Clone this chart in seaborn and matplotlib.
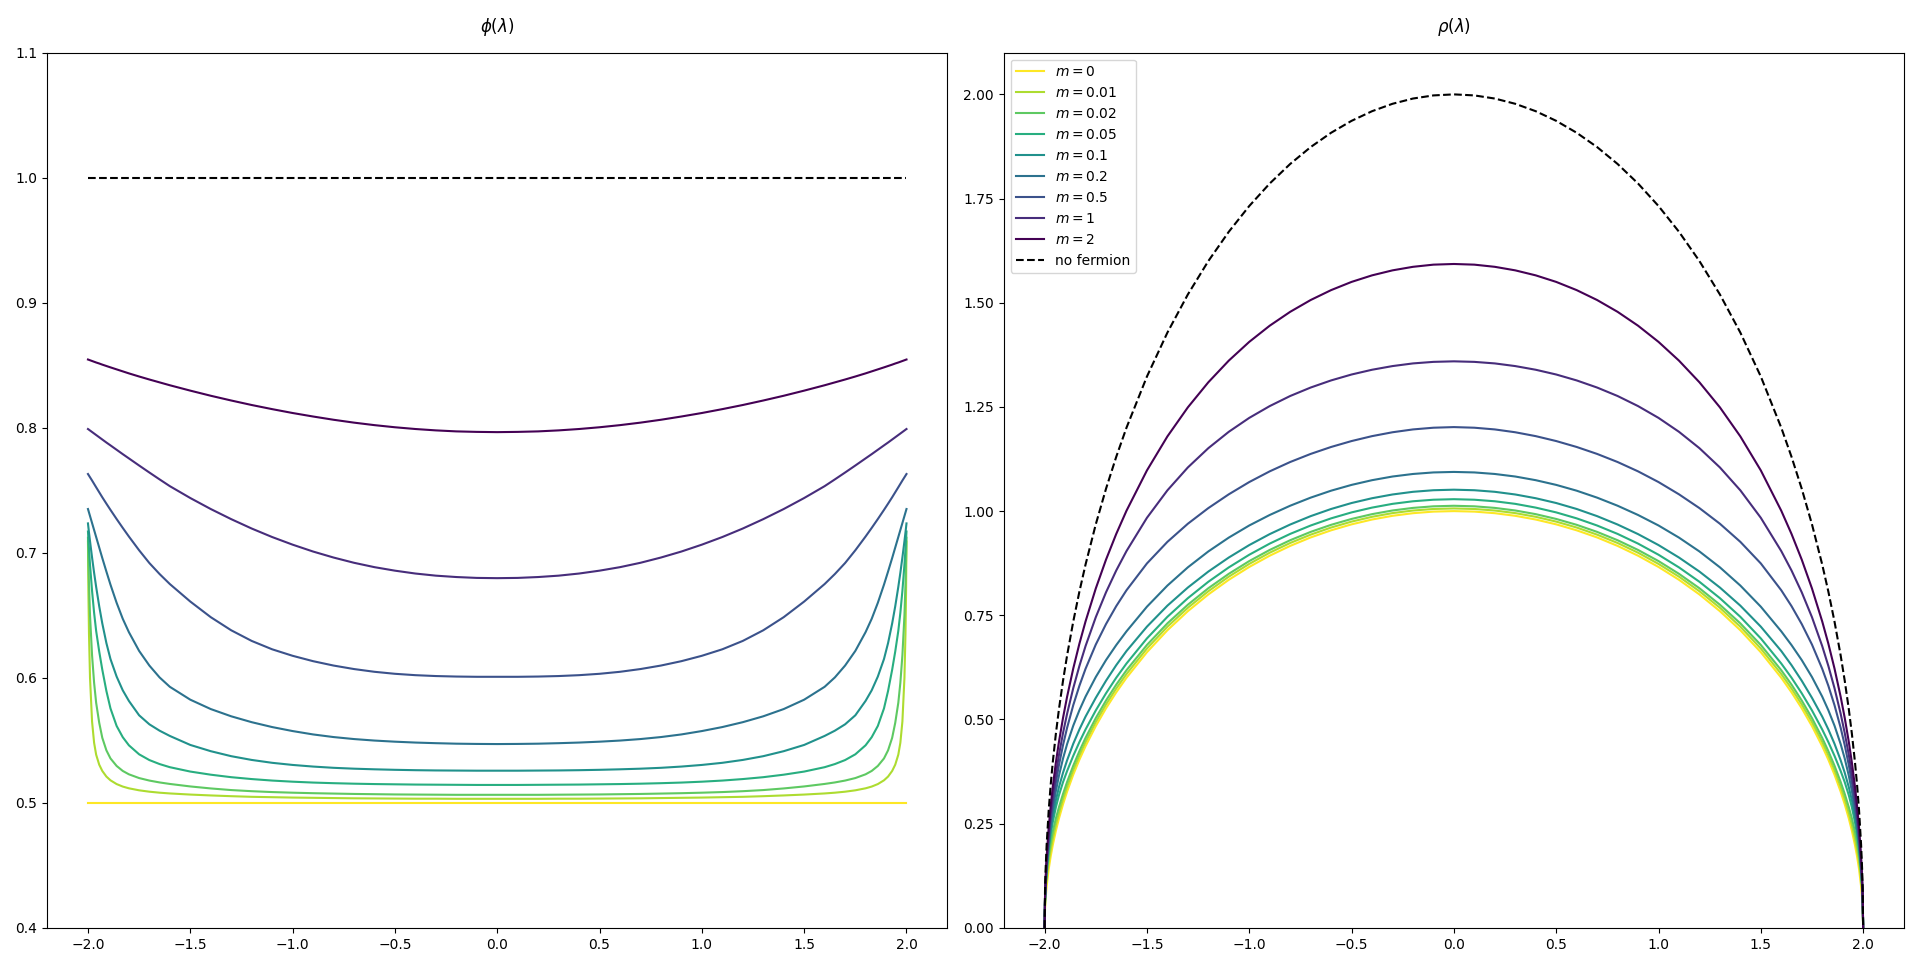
import numpy as np
import pandas as pd
import seaborn as sns
import matplotlib
matplotlib.use("Agg")
import matplotlib.pyplot as plt

# eigenvalue grid, denser near the ends of the cut
lam = [-2.0, -1.998, -1.995, -1.99, -1.98, -1.97, -1.96, -1.945, -1.93, -1.91,
       -1.89, -1.86, -1.83, -1.8, -1.75, -1.7, -1.65, -1.6, -1.5, -1.4,
       -1.3, -1.2, -1.1, -1.0, -0.9, -0.8, -0.7, -0.6, -0.5, -0.4,
       -0.3, -0.2, -0.1, 0.0,
       0.1, 0.2, 0.3, 0.4, 0.5, 0.6, 0.7, 0.8, 0.9, 1.0,
       1.1, 1.2, 1.3, 1.4, 1.5, 1.6, 1.65, 1.7, 1.75, 1.8,
       1.83, 1.86, 1.89, 1.91, 1.93, 1.945, 1.96, 1.97, 1.98, 1.99,
       1.995, 1.998, 2.0]

masses = ["0", "0.01", "0.02", "0.05", "0.1", "0.2", "0.5", "1", "2"]

# phi(lambda), left panel
phi_m0 = [0.5] * 67
phi_m001 = [
    0.7090, 0.6700, 0.6350, 0.6000, 0.5650, 0.5480, 0.5385, 0.5305, 0.5255, 0.5210,
    0.5180, 0.5150, 0.5130, 0.5116, 0.5100, 0.5089, 0.5081, 0.5075, 0.5066, 0.5059,
    0.5053, 0.5048, 0.5045, 0.5042, 0.5040, 0.5038, 0.5036, 0.5035, 0.5034, 0.5033,
    0.5033, 0.5032, 0.5032, 0.5032,
    0.5032, 0.5032, 0.5033, 0.5033, 0.5034, 0.5035, 0.5036, 0.5038, 0.5040, 0.5042,
    0.5045, 0.5048, 0.5053, 0.5059, 0.5066, 0.5075, 0.5081, 0.5089, 0.5100, 0.5116,
    0.5130, 0.5150, 0.5180, 0.5210, 0.5255, 0.5305, 0.5385, 0.5480, 0.5650, 0.6000,
    0.6350, 0.6700, 0.7090]
phi_m002 = [
    0.7120, 0.6950, 0.6750, 0.6500, 0.6180, 0.5960, 0.5800, 0.5640, 0.5520, 0.5420,
    0.5355, 0.5295, 0.5255, 0.5228, 0.5198, 0.5178, 0.5163, 0.5151, 0.5131, 0.5115,
    0.5102, 0.5093, 0.5086, 0.5081, 0.5077, 0.5074, 0.5071, 0.5069, 0.5067, 0.5066,
    0.5065, 0.5064, 0.5064, 0.5064,
    0.5064, 0.5064, 0.5065, 0.5066, 0.5067, 0.5069, 0.5071, 0.5074, 0.5077, 0.5081,
    0.5086, 0.5093, 0.5102, 0.5115, 0.5131, 0.5151, 0.5163, 0.5178, 0.5198, 0.5228,
    0.5255, 0.5295, 0.5355, 0.5420, 0.5520, 0.5640, 0.5800, 0.5960, 0.6180, 0.6500,
    0.6750, 0.6950, 0.7120]
phi_m005 = [
    0.7170, 0.7110, 0.7030, 0.6905, 0.6695, 0.6520, 0.6375, 0.6210, 0.6065, 0.5895,
    0.5755, 0.5615, 0.5525, 0.5460, 0.5388, 0.5342, 0.5310, 0.5285, 0.5250, 0.5225,
    0.5205, 0.5190, 0.5178, 0.5169, 0.5162, 0.5157, 0.5153, 0.5150, 0.5148, 0.5146,
    0.5145, 0.5144, 0.5143, 0.5143,
    0.5143, 0.5144, 0.5145, 0.5146, 0.5148, 0.5150, 0.5153, 0.5157, 0.5162, 0.5169,
    0.5178, 0.5190, 0.5205, 0.5225, 0.5250, 0.5285, 0.5310, 0.5342, 0.5388, 0.5460,
    0.5525, 0.5615, 0.5755, 0.5895, 0.6065, 0.6210, 0.6375, 0.6520, 0.6695, 0.6905,
    0.7030, 0.7110, 0.7170]
phi_m01 = [
    0.7235, 0.7205, 0.7162, 0.7093, 0.6962, 0.6840, 0.6727, 0.6572, 0.6435, 0.6278,
    0.6150, 0.6010, 0.5900, 0.5815, 0.5700, 0.5628, 0.5577, 0.5535, 0.5463, 0.5413,
    0.5373, 0.5343, 0.5320, 0.5303, 0.5290, 0.5280, 0.5273, 0.5268, 0.5264, 0.5261,
    0.5259, 0.5258, 0.5257, 0.5257,
    0.5257, 0.5258, 0.5259, 0.5261, 0.5264, 0.5268, 0.5273, 0.5280, 0.5290, 0.5303,
    0.5320, 0.5343, 0.5373, 0.5413, 0.5463, 0.5535, 0.5577, 0.5628, 0.5700, 0.5815,
    0.5900, 0.6010, 0.6150, 0.6278, 0.6435, 0.6572, 0.6727, 0.6840, 0.6962, 0.7093,
    0.7162, 0.7205, 0.7235]
phi_m02 = [
    0.7350, 0.7339, 0.7322, 0.7294, 0.7238, 0.7182, 0.7126, 0.7042, 0.6958, 0.6850,
    0.6745, 0.6600, 0.6472, 0.6365, 0.6215, 0.6098, 0.6003, 0.5928, 0.5825, 0.5750,
    0.5692, 0.5645, 0.5606, 0.5574, 0.5547, 0.5526, 0.5510, 0.5498, 0.5489, 0.5482,
    0.5477, 0.5473, 0.5471, 0.5470,
    0.5471, 0.5473, 0.5477, 0.5482, 0.5489, 0.5498, 0.5510, 0.5526, 0.5547, 0.5574,
    0.5606, 0.5645, 0.5692, 0.5750, 0.5825, 0.5928, 0.6003, 0.6098, 0.6215, 0.6365,
    0.6472, 0.6600, 0.6745, 0.6850, 0.6958, 0.7042, 0.7126, 0.7182, 0.7238, 0.7294,
    0.7322, 0.7339, 0.7350]
phi_m05 = [
    0.7630, 0.7625, 0.7617, 0.7604, 0.7578, 0.7551, 0.7524, 0.7484, 0.7444, 0.7393,
    0.7343, 0.7270, 0.7199, 0.7130, 0.7020, 0.6918, 0.6830, 0.6750, 0.6610, 0.6485,
    0.6380, 0.6295, 0.6228, 0.6176, 0.6133, 0.6098, 0.6070, 0.6048, 0.6032, 0.6021,
    0.6014, 0.6010, 0.6008, 0.6008,
    0.6008, 0.6010, 0.6014, 0.6021, 0.6032, 0.6048, 0.6070, 0.6098, 0.6133, 0.6176,
    0.6228, 0.6295, 0.6380, 0.6485, 0.6610, 0.6750, 0.6830, 0.6918, 0.7020, 0.7130,
    0.7199, 0.7270, 0.7343, 0.7393, 0.7444, 0.7484, 0.7524, 0.7551, 0.7578, 0.7604,
    0.7617, 0.7625, 0.7630]
phi_m1 = [
    0.7990, 0.7988, 0.7984, 0.7978, 0.7966, 0.7954, 0.7942, 0.7924, 0.7906, 0.7882,
    0.7859, 0.7824, 0.7789, 0.7755, 0.7698, 0.7642, 0.7587, 0.7533, 0.7438, 0.7350,
    0.7269, 0.7194, 0.7126, 0.7065, 0.7010, 0.6962, 0.6920, 0.6885, 0.6857, 0.6834,
    0.6817, 0.6806, 0.6799, 0.6797,
    0.6799, 0.6806, 0.6817, 0.6834, 0.6857, 0.6885, 0.6920, 0.6962, 0.7010, 0.7065,
    0.7126, 0.7194, 0.7269, 0.7350, 0.7438, 0.7533, 0.7587, 0.7642, 0.7698, 0.7755,
    0.7789, 0.7824, 0.7859, 0.7882, 0.7906, 0.7924, 0.7942, 0.7954, 0.7966, 0.7978,
    0.7984, 0.7988, 0.7990]
phi_m2 = [
    0.8546, 0.8545, 0.8543, 0.8540, 0.8534, 0.8528, 0.8522, 0.8514, 0.8505, 0.8494,
    0.8483, 0.8467, 0.8451, 0.8435, 0.8410, 0.8386, 0.8363, 0.8340, 0.8297, 0.8256,
    0.8218, 0.8182, 0.8149, 0.8118, 0.8090, 0.8064, 0.8041, 0.8021, 0.8004, 0.7990,
    0.7979, 0.7971, 0.7967, 0.7965,
    0.7967, 0.7971, 0.7979, 0.7990, 0.8004, 0.8021, 0.8041, 0.8064, 0.8090, 0.8118,
    0.8149, 0.8182, 0.8218, 0.8256, 0.8297, 0.8340, 0.8363, 0.8386, 0.8410, 0.8435,
    0.8451, 0.8467, 0.8483, 0.8494, 0.8505, 0.8514, 0.8522, 0.8528, 0.8534, 0.8540,
    0.8543, 0.8545, 0.8546]
phi_free = [1.0] * 67

# rho(lambda), right panel
rho_m0 = [
    0.0, 0.0447, 0.0707, 0.0999, 0.1411, 0.1726, 0.1990, 0.2329, 0.2623, 0.2966,
    0.3271, 0.3676, 0.4035, 0.4359, 0.4841, 0.5268, 0.5651, 0.6000, 0.6614, 0.7141,
    0.7599, 0.8000, 0.8352, 0.8660, 0.8930, 0.9165, 0.9368, 0.9539, 0.9682, 0.9798,
    0.9887, 0.9950, 0.9988, 1.0000,
    0.9988, 0.9950, 0.9887, 0.9798, 0.9682, 0.9539, 0.9368, 0.9165, 0.8930, 0.8660,
    0.8352, 0.8000, 0.7599, 0.7141, 0.6614, 0.6000, 0.5651, 0.5268, 0.4841, 0.4359,
    0.4035, 0.3676, 0.3271, 0.2966, 0.2623, 0.2329, 0.1990, 0.1726, 0.1411, 0.0999,
    0.0707, 0.0447, 0.0]
rho_m001 = [
    0.0, 0.0599, 0.0897, 0.1199, 0.1594, 0.1891, 0.2143, 0.2471, 0.2756, 0.3091,
    0.3388, 0.3786, 0.4139, 0.4460, 0.4938, 0.5362, 0.5743, 0.6090, 0.6702, 0.7226,
    0.7680, 0.8077, 0.8427, 0.8733, 0.9002, 0.9235, 0.9435, 0.9606, 0.9748, 0.9863,
    0.9952, 1.0014, 1.0051, 1.0064,
    1.0051, 1.0014, 0.9952, 0.9863, 0.9748, 0.9606, 0.9435, 0.9235, 0.9002, 0.8733,
    0.8427, 0.8077, 0.7680, 0.7226, 0.6702, 0.6090, 0.5743, 0.5362, 0.4938, 0.4460,
    0.4139, 0.3786, 0.3388, 0.3091, 0.2756, 0.2471, 0.2143, 0.1891, 0.1594, 0.1199,
    0.0897, 0.0599, 0.0]
rho_m002 = [
    0.0, 0.0621, 0.0954, 0.1298, 0.1744, 0.2057, 0.2308, 0.2627, 0.2895, 0.3215,
    0.3503, 0.3892, 0.4240, 0.4558, 0.5033, 0.5455, 0.5836, 0.6181, 0.6788, 0.7306,
    0.7754, 0.8149, 0.8495, 0.8801, 0.9068, 0.9301, 0.9501, 0.9671, 0.9812, 0.9927,
    1.0015, 1.0077, 1.0115, 1.0128,
    1.0115, 1.0077, 1.0015, 0.9927, 0.9812, 0.9671, 0.9501, 0.9301, 0.9068, 0.8801,
    0.8495, 0.8149, 0.7754, 0.7306, 0.6788, 0.6181, 0.5836, 0.5455, 0.5033, 0.4558,
    0.4240, 0.3892, 0.3503, 0.3215, 0.2895, 0.2627, 0.2308, 0.2057, 0.1744, 0.1298,
    0.0954, 0.0621, 0.0]
rho_m005 = [
    0.0, 0.0636, 0.0994, 0.1379, 0.1889, 0.2250, 0.2537, 0.2893, 0.3181, 0.3497,
    0.3765, 0.4128, 0.4458, 0.4760, 0.5217, 0.5628, 0.6002, 0.6342, 0.6945, 0.7463,
    0.7911, 0.8304, 0.8649, 0.8953, 0.9220, 0.9453, 0.9654, 0.9826, 0.9969, 1.0084,
    1.0174, 1.0236, 1.0273, 1.0286,
    1.0273, 1.0236, 1.0174, 1.0084, 0.9969, 0.9826, 0.9654, 0.9453, 0.9220, 0.8953,
    0.8649, 0.8304, 0.7911, 0.7463, 0.6945, 0.6342, 0.6002, 0.5628, 0.5217, 0.4760,
    0.4458, 0.4128, 0.3765, 0.3497, 0.3181, 0.2893, 0.2537, 0.2250, 0.1889, 0.1379,
    0.0994, 0.0636, 0.0]
rho_m01 = [
    0.0, 0.0644, 0.1012, 0.1417, 0.1964, 0.2361, 0.2677, 0.3061, 0.3375, 0.3724,
    0.4023, 0.4418, 0.4761, 0.5069, 0.5519, 0.5929, 0.6303, 0.6642, 0.7227, 0.7731,
    0.8166, 0.8549, 0.8886, 0.9185, 0.9448, 0.9678, 0.9879, 1.0051, 1.0194, 1.0309,
    1.0399, 1.0463, 1.0501, 1.0514,
    1.0501, 1.0463, 1.0399, 1.0309, 1.0194, 1.0051, 0.9879, 0.9678, 0.9448, 0.9185,
    0.8886, 0.8549, 0.8166, 0.7731, 0.7227, 0.6642, 0.6303, 0.5929, 0.5519, 0.5069,
    0.4761, 0.4418, 0.4023, 0.3724, 0.3375, 0.3061, 0.2677, 0.2361, 0.1964, 0.1417,
    0.1012, 0.0644, 0.0]
rho_m02 = [
    0.0, 0.0656, 0.1035, 0.1457, 0.2042, 0.2479, 0.2836, 0.3280, 0.3649, 0.4064,
    0.4412, 0.4852, 0.5222, 0.5549, 0.6018, 0.6425, 0.6785, 0.7114, 0.7706, 0.8213,
    0.8651, 0.9032, 0.9364, 0.9655, 0.9907, 1.0129, 1.0323, 1.0490, 1.0629, 1.0742,
    1.0830, 1.0891, 1.0928, 1.0940,
    1.0928, 1.0891, 1.0830, 1.0742, 1.0629, 1.0490, 1.0323, 1.0129, 0.9907, 0.9655,
    0.9364, 0.9032, 0.8651, 0.8213, 0.7706, 0.7114, 0.6785, 0.6425, 0.6018, 0.5549,
    0.5222, 0.4852, 0.4412, 0.4064, 0.3649, 0.3280, 0.2836, 0.2479, 0.2042, 0.1457,
    0.1035, 0.0656, 0.0]
rho_m05 = [
    0.0, 0.0682, 0.1077, 0.1519, 0.2138, 0.2606, 0.2994, 0.3486, 0.3904, 0.4386,
    0.4803, 0.5344, 0.5809, 0.6216, 0.6797, 0.7289, 0.7720, 0.8100, 0.8744, 0.9262,
    0.9697, 1.0072, 1.0403, 1.0697, 1.0954, 1.1178, 1.1372, 1.1539, 1.1681, 1.1799,
    1.1892, 1.1960, 1.2001, 1.2016,
    1.2001, 1.1960, 1.1892, 1.1799, 1.1681, 1.1539, 1.1372, 1.1178, 1.0954, 1.0697,
    1.0403, 1.0072, 0.9697, 0.9262, 0.8744, 0.8100, 0.7720, 0.7289, 0.6797, 0.6216,
    0.5809, 0.5344, 0.4803, 0.4386, 0.3904, 0.3486, 0.2994, 0.2606, 0.2138, 0.1519,
    0.1077, 0.0682, 0.0]
rho_m1 = [
    0.0, 0.0714, 0.1128, 0.1594, 0.2247, 0.2745, 0.3161, 0.3691, 0.4147, 0.4676,
    0.5141, 0.5752, 0.6285, 0.6761, 0.7454, 0.8051, 0.8575, 0.9040, 0.9839, 1.0498,
    1.1048, 1.1510, 1.1903, 1.2237, 1.2520, 1.2762, 1.2965, 1.3136, 1.3278, 1.3392,
    1.3480, 1.3544, 1.3581, 1.3594,
    1.3581, 1.3544, 1.3480, 1.3392, 1.3278, 1.3136, 1.2965, 1.2762, 1.2520, 1.2237,
    1.1903, 1.1510, 1.1048, 1.0498, 0.9839, 0.9040, 0.8575, 0.8051, 0.7454, 0.6761,
    0.6285, 0.5752, 0.5141, 0.4676, 0.4147, 0.3691, 0.3161, 0.2745, 0.2247, 0.1594,
    0.1128, 0.0714, 0.0]
rho_m2 = [
    0.0, 0.0764, 0.1207, 0.1706, 0.2408, 0.2943, 0.3392, 0.3966, 0.4461, 0.5039,
    0.5549, 0.6224, 0.6819, 0.7353, 0.8143, 0.8835, 0.9452, 1.0008, 1.0976, 1.1792,
    1.2490, 1.3091, 1.3611, 1.4061, 1.4449, 1.4782, 1.5065, 1.5303, 1.5500, 1.5657,
    1.5777, 1.5862, 1.5914, 1.5930,
    1.5914, 1.5862, 1.5777, 1.5657, 1.5500, 1.5303, 1.5065, 1.4782, 1.4449, 1.4061,
    1.3611, 1.3091, 1.2490, 1.1792, 1.0976, 1.0008, 0.9452, 0.8835, 0.8143, 0.7353,
    0.6819, 0.6224, 0.5549, 0.5039, 0.4461, 0.3966, 0.3392, 0.2943, 0.2408, 0.1706,
    0.1207, 0.0764, 0.0]
rho_free = [
    0.0, 0.0894, 0.1413, 0.1998, 0.2821, 0.3451, 0.3980, 0.4658, 0.5245, 0.5932,
    0.6541, 0.7351, 0.8069, 0.8718, 0.9682, 1.0536, 1.1303, 1.2000, 1.3229, 1.4283,
    1.5199, 1.6000, 1.6703, 1.7321, 1.7861, 1.8330, 1.8735, 1.9079, 1.9365, 1.9596,
    1.9774, 1.9900, 1.9975, 2.0000,
    1.9975, 1.9900, 1.9774, 1.9596, 1.9365, 1.9079, 1.8735, 1.8330, 1.7861, 1.7321,
    1.6703, 1.6000, 1.5199, 1.4283, 1.3229, 1.2000, 1.1303, 1.0536, 0.9682, 0.8718,
    0.8069, 0.7351, 0.6541, 0.5932, 0.5245, 0.4658, 0.3980, 0.3451, 0.2821, 0.1998,
    0.1413, 0.0894, 0.0]

phi_series = [phi_m0, phi_m001, phi_m002, phi_m005, phi_m01, phi_m02, phi_m05, phi_m1, phi_m2]
rho_series = [rho_m0, rho_m001, rho_m002, rho_m005, rho_m01, rho_m02, rho_m05, rho_m1, rho_m2]
for s in phi_series + rho_series + [phi_free, rho_free]:
    assert len(s) == len(lam), len(s)

labels = [f"$m={m}$" for m in masses]
rows = []
for lab, ph, rh in zip(labels, phi_series, rho_series):
    for x, p, r in zip(lam, ph, rh):
        rows.append({"lam": x, "phi": p, "rho": r, "m": lab})
df = pd.DataFrame(rows)

# viridis from yellow (m=0) to dark purple (m=2)
palette = [tuple(c[:3]) for c in plt.cm.viridis(np.linspace(1, 0, len(masses)))]

fig, axes = plt.subplots(1, 2, figsize=(19.2, 9.67), dpi=100)
fig.subplots_adjust(left=0.0245, right=0.9917, top=0.9455, bottom=0.0405, wspace=0.0625)

# left: phi
ax = axes[0]
sns.lineplot(data=df, x="lam", y="phi", hue="m", hue_order=labels, palette=palette,
             estimator=None, sort=False, legend=False, ax=ax)
sns.lineplot(x=lam, y=phi_free, color="k", linestyle="--", estimator=None, ax=ax)
ax.set_ylim(0.4, 1.1)
ax.set_xlim(-2.2, 2.2)
ax.set_title(r"$\phi(\lambda)$", fontsize=12, pad=15)
ax.set_xlabel("")
ax.set_ylabel("")

# right: rho
ax = axes[1]
sns.lineplot(data=df, x="lam", y="rho", hue="m", hue_order=labels, palette=palette,
             estimator=None, sort=False, ax=ax)
sns.lineplot(x=lam, y=rho_free, color="k", linestyle="--", estimator=None,
             label="no fermion", ax=ax)
ax.set_ylim(0, 2.1)
ax.set_xlim(-2.2, 2.2)
ax.set_title(r"$\rho(\lambda)$", fontsize=12, pad=15)
ax.set_xlabel("")
ax.set_ylabel("")
ax.legend(loc="upper left")

fig.savefig("out.png", dpi=100)
